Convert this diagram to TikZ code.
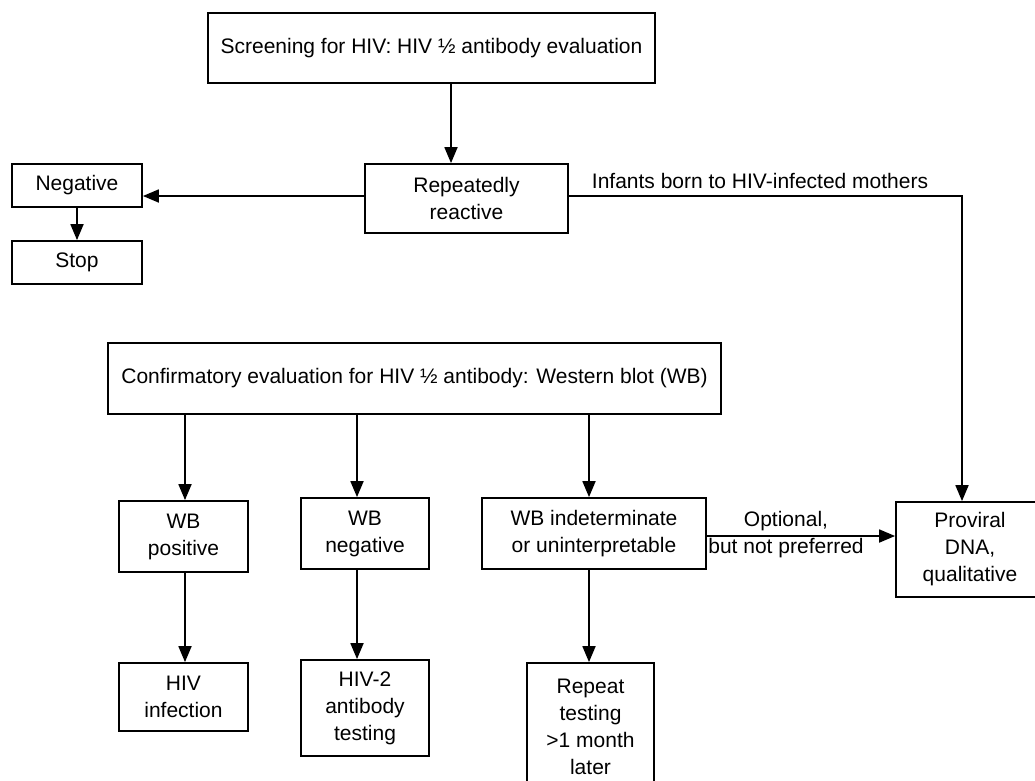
\documentclass[tikz,border=0pt]{standalone}
\usepackage{fontspec}
\setmainfont{Liberation Sans}
\usetikzlibrary{arrows.meta}
\begin{document}
\begin{tikzpicture}[x=1pt,y=-1pt,
  box/.style={draw, line width=1.8pt, inner sep=0pt, align=center,
    font=\fontsize{21}{27}\selectfont},
  lab/.style={inner sep=0pt, align=center, font=\fontsize{21}{27}\selectfont},
  arr/.style={line width=1.8pt, -{Triangle[length=16pt,width=13pt]}},
  ln/.style={line width=1.8pt}]
\useasboundingbox (0,0) rectangle (1035,780);
% boxes
\node[box, minimum width=447pt, minimum height=70pt] (screen) at (431.5,48) {Screening for HIV: HIV ½ antibody evaluation};
\node[box, minimum width=203pt, minimum height=69pt] (rep) at (466.5,198.5) {Repeatedly\\reactive};
\node[box, minimum width=130pt, minimum height=43pt] (neg) at (77,185.5) {Negative};
\node[box, minimum width=130pt, minimum height=43pt] (stop) at (77,262.5) {Stop};
\node[box, minimum width=613pt, minimum height=71pt] (conf) at (414.5,378.5) {Confirmatory evaluation for HIV ½ antibody: Western blot (WB)};
\node[box, minimum width=129pt, minimum height=71pt] (wbpos) at (183.5,536.5) {WB\\positive};
\node[box, minimum width=128pt, minimum height=71pt] (wbneg) at (365,533.5) {WB\\negative};
\node[box, minimum width=224pt, minimum height=71pt] (wbind) at (594,533.5) {WB indeterminate\\or uninterpretable};
\node[box, minimum width=129pt, minimum height=68pt] (hivinf) at (183.5,697) {HIV\\infection};
\node[box, minimum width=128pt, minimum height=96pt] (hiv2) at (365,708) {HIV-2\\antibody\\testing};
\node[box, minimum width=127pt, minimum height=127pt] (repeat) at (590.5,726.5) {Repeat\\testing\\>1 month\\later};
\node[box, minimum width=148pt, minimum height=95pt] (prov) at (970,549.5) {Proviral\\DNA,\\qualitative};
% connector coordinates
\coordinate (xs) at (451,0);
\coordinate (yr) at (0,196);
\coordinate (xi) at (962,0);
\coordinate (xa) at (185,0);
\coordinate (xb) at (357,0);
\coordinate (xc) at (589,0);
\coordinate (yo) at (0,536);
\coordinate (corner) at (962,196);
% connectors
\draw[arr] (screen.south -| xs) -- (rep.north -| xs);
\draw[arr] (rep.west |- yr) -- (neg.east |- yr);
\draw[arr] (neg) -- (stop);
\draw[arr] (rep.east |- yr) -- (corner) -- (prov.north -| corner);
\draw[arr] (conf.south -| xa) -- (wbpos.north -| xa);
\draw[arr] (conf.south -| xb) -- (wbneg.north -| xb);
\draw[arr] (conf.south -| xc) -- (wbind.north -| xc);
\draw[arr] (wbpos.south -| xa) -- (hivinf.north -| xa);
\draw[arr] (wbneg.south -| xb) -- (hiv2.north -| xb);
\draw[arr] (wbind.south -| xc) -- (repeat.north -| xc);
\draw[arr] (wbind.east |- yo) -- (prov.west |- yo);
% labels
\node[lab] (linf) at (760,181) {Infants born to HIV-infected mothers};
\node[lab] (lopt) at (786,535) {Optional,\\but not preferred};
\end{tikzpicture}
\end{document}
